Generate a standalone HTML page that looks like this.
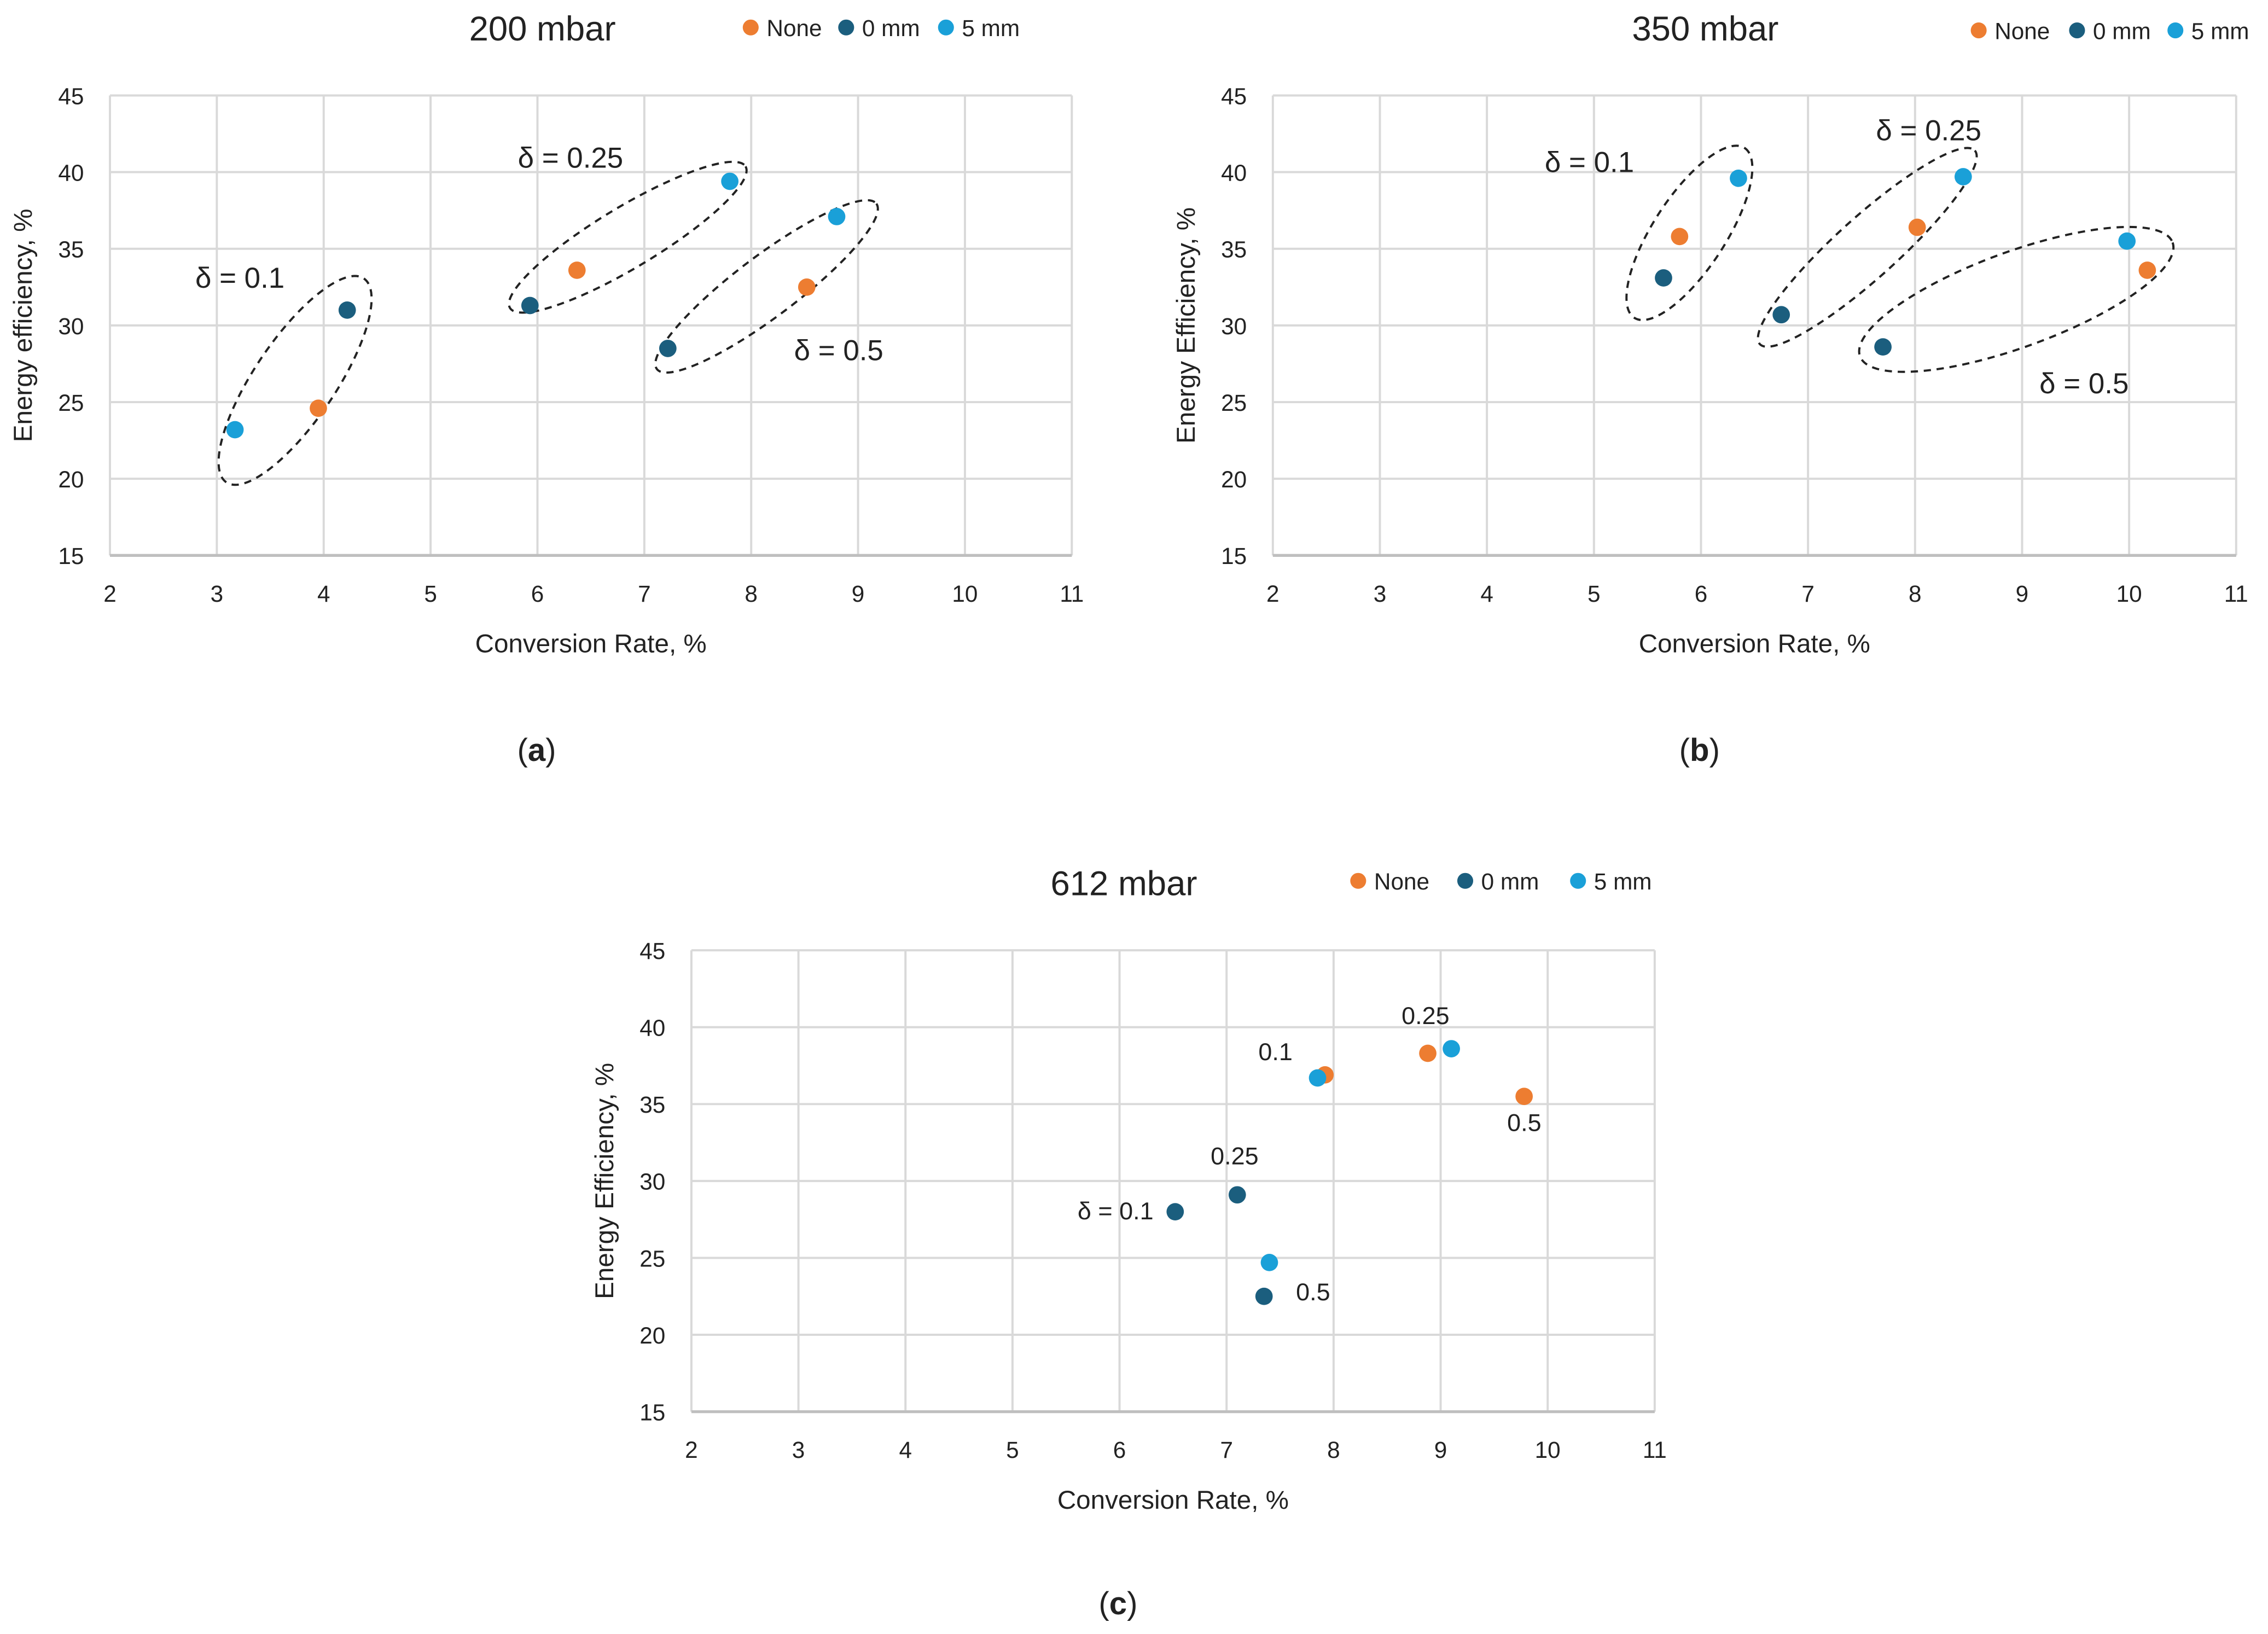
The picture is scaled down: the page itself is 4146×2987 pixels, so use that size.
<!DOCTYPE html>
<html><head><meta charset="utf-8"><style>
html,body{margin:0;padding:0;background:#fff;}
svg{display:block;}
text{font-family:"Liberation Sans",sans-serif;fill:#222;}
</style></head><body>
<svg id="fig" xmlns="http://www.w3.org/2000/svg" width="4146" height="2987" viewBox="0 0 1568 1129.7"></svg>
<script>
// ---- data ----
const xTicks = [2,3,4,5,6,7,8,9,10,11];
const yTicks = [15,20,25,30,35,40,45];
const seriesNames = ["None","0 mm","5 mm"];
const seriesColors = ["#ED7D31","#1B5E7E","#1AA0D8"];
// panel a (200 mbar)
const aNoneX = [3.95,6.37,8.52],  aNoneY = [24.6,33.6,32.5];
const a0X = [4.22,5.93,7.22],     a0Y = [31.0,31.3,28.5];
const a5X = [3.17,7.80,8.80],     a5Y = [23.2,39.4,37.1];
// panel b (350 mbar)
const bNoneX = [5.80,8.02,10.17], bNoneY = [35.8,36.4,33.6];
const b0X = [5.65,6.75,7.70],     b0Y = [33.1,30.7,28.6];
const b5X = [6.35,8.45,9.98],     b5Y = [39.6,39.7,35.5];
// panel c (612 mbar)
const cNoneX = [7.92,8.88,9.78],  cNoneY = [36.9,38.3,35.5];
const c0X = [6.52,7.10,7.35],     c0Y = [28.0,29.1,22.5];
const c5X = [7.85,9.10,7.40],     c5Y = [36.7,38.6,24.7];

const NS="http://www.w3.org/2000/svg";
const svg=document.getElementById('fig');
function mk(tag,attrs,parent,text){const e=document.createElementNS(NS,tag);for(const k in attrs)e.setAttribute(k,attrs[k]);if(text!==undefined)e.textContent=text;(parent||svg).appendChild(e);return e;}

const panels=[
 {id:'a',x0:76,x1:741,y0:66,y1:384,title:'200 mbar',tx:375,ty:28,leg:[519,585,654],ly:19,ytitle:'Energy efficiency, %',ytx:22,cap:'a',capx:371,capy:526,
  series:[[aNoneX,aNoneY],[a0X,a0Y],[a5X,a5Y]],
  ell:[[204,263,85,28,-56],[434,164,95,21,-31],[530,198,95,21,-37]],
  labels:[['δ = 0.1',135,199,20],['δ = 0.25',358,116,20],['δ = 0.5',549,249,20]]},
 {id:'b',x0:880,x1:1546,y0:66,y1:384,title:'350 mbar',tx:1179,ty:28,leg:[1368,1436,1504],ly:21,ytitle:'Energy Efficiency, %',ytx:826,cap:'b',capx:1175,capy:526,
  series:[[bNoneX,bNoneY],[b0X,b0Y],[b5X,b5Y]],
  ell:[[1168,161,70,25,-57],[1291,171,100,21,-42],[1394,207,115,33,-20]],
  labels:[['δ = 0.1',1068,119,20],['δ = 0.25',1297,97,20],['δ = 0.5',1410,272,20]]},
 {id:'c',x0:478,x1:1144,y0:657,y1:976,title:'612 mbar',tx:777,ty:619,leg:[939,1013,1091],ly:609,ytitle:'Energy Efficiency, %',ytx:424,cap:'c',capx:773,capy:1116,
  series:[[cNoneX,cNoneY],[c0X,c0Y],[c5X,c5Y]],
  ell:[],
  labels:[['0.1',870,733,17],['0.25',969,708,17],['0.5',1042,782,17],['0.25',837,805,17],['δ = 0.1',745,843,17],['0.5',896,899,17]]}
];

panels.forEach(p=>{
  const g=mk('g',{});
  
  
  const sx=v=>p.x0+(v-xTicks[0])/(xTicks[xTicks.length-1]-xTicks[0])*(p.x1-p.x0);
  const sy=v=>p.y1-(v-yTicks[0])/(yTicks[yTicks.length-1]-yTicks[0])*(p.y1-p.y0);
  xTicks.forEach(t=>{
    const l=mk('line',{x1:sx(t),x2:sx(t),y1:p.y0,y2:p.y1,stroke:'#d9d9d9','stroke-width':1.5},g);
    
    const tx=mk('text',{x:sx(t),y:p.y1+32,'font-size':16,'text-anchor':'middle'},g,String(t));
    
  });
  yTicks.forEach(t=>{
    const l=mk('line',{x1:p.x0,x2:p.x1,y1:sy(t),y2:sy(t),stroke:'#d9d9d9','stroke-width':1.5},g);
    
    const tx=mk('text',{x:p.x0-18,y:sy(t)+6,'font-size':16,'text-anchor':'end'},g,String(t));
    
  });
  const bx=mk('line',{x1:p.x0,x2:p.x1,y1:p.y1,y2:p.y1,stroke:'#bfbfbf','stroke-width':2},g);
  
  const tt=mk('text',{x:p.tx,y:p.ty,'font-size':24,'text-anchor':'middle'},g,p.title);
  
  seriesNames.forEach((n,i)=>{
    const c=mk('circle',{cx:p.leg[i],cy:p.ly,r:5.5,fill:seriesColors[i]},g);
    
    const t=mk('text',{x:p.leg[i]+11,y:p.ly+6,'font-size':16},g,n);
    
  });
  const xt=mk('text',{x:(p.x0+p.x1)/2,y:p.y1+67,'font-size':18,'text-anchor':'middle'},g,'Conversion Rate, %');
  
  const yt=mk('text',{x:0,y:0,'font-size':18,'text-anchor':'middle',transform:`translate(${p.ytx},${(p.y0+p.y1)/2}) rotate(-90)`},g,p.ytitle);
  
  p.ell.forEach(e=>{
    const el=mk('ellipse',{cx:e[0],cy:e[1],rx:e[2],ry:e[3],fill:'none',stroke:'#222','stroke-width':1.5,'stroke-dasharray':'5,4',transform:`rotate(${e[4]} ${e[0]} ${e[1]})`},g);
    
  });
  p.series.forEach((s,i)=>{
    s[0].forEach((xv,j)=>{
      const c=mk('circle',{cx:sx(xv),cy:sy(s[1][j]),r:6,fill:seriesColors[i]},g);
      
      
    });
  });
  p.labels.forEach(l=>{
    const t=mk('text',{x:l[1],y:l[2],'font-size':l[3]},g,l[0]);
    
  });
  const cp=mk('text',{x:p.capx,y:p.capy,'font-size':22,'text-anchor':'middle','font-family':'Liberation Serif, serif'},g);
  
  mk('tspan',{},cp,'(');
  mk('tspan',{'font-weight':'bold'},cp,p.cap);
  mk('tspan',{},cp,')');
});
</script>
</body></html>
